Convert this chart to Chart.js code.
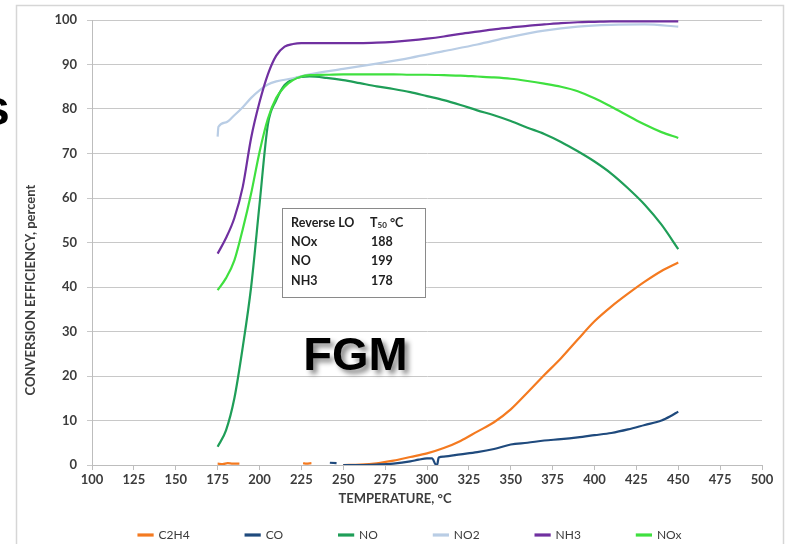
<!DOCTYPE html>
<html>
<head>
<meta charset="utf-8">
<script src="https://cdn.jsdelivr.net/npm/chart.js@4.4.1/dist/chart.umd.min.js"></script>
<style>
  html, body { margin: 0; padding: 0; background: #ffffff; }
  canvas { display: block; }
</style>
</head>
<body>
<canvas id="chart" width="788" height="544"></canvas>
<script>
// Light-off curves: conversion efficiency (%) versus inlet temperature (°C)
const seriesNames = ['C2H4', 'CO', 'NO', 'NO2', 'NH3', 'NOx'];
const seriesColors = ['#f47a20', '#1f4a7d', '#1f9e58', '#b9cde5', '#7030a0', '#3fe03f'];

const c2h4Temp = [175, 178, 181, 184, 188, 189, 226, 228, 231, 232, 250, 260, 270, 280, 290, 300, 310, 320, 330, 340, 350, 360, 370, 380, 390, 400, 410, 420, 430, 440, 450];
const c2h4Vals = [0.3, 0.2, 0.4, 0.3, 0.3, null, 0.4, 0.3, 0.4, null, 0, 0.1, 0.4, 1.0, 1.8, 2.6, 3.8, 5.4, 7.5, 9.6, 12.5, 16.3, 20.2, 24.0, 28.2, 32.3, 35.6, 38.5, 41.2, 43.6, 45.5];

const coTemp = [242, 246, 247, 250, 260, 270, 280, 290, 295, 300, 303, 305, 306, 307, 310, 320, 330, 340, 350, 360, 370, 380, 390, 400, 410, 420, 430, 440, 445, 450];
const coVals = [0.5, 0.4, null, 0, 0, 0.1, 0.3, 0.8, 1.2, 1.5, 1.5, 0.2, 0, 1.7, 1.9, 2.4, 2.9, 3.6, 4.6, 5.0, 5.5, 5.8, 6.2, 6.7, 7.2, 8.0, 9.0, 10.0, 10.9, 12.0];

const gridTemp = [175, 180, 185, 190, 195, 200, 205, 210, 215, 220, 225, 230, 240, 250, 260, 270, 280, 290, 300, 310, 320, 330, 340, 350, 360, 370, 380, 390, 400, 410, 420, 430, 440, 450];
const noVals  = [4.1, 7.8, 15.0, 26.5, 40.0, 58.5, 76.5, 82.0, 85.4, 86.7, 87.2, 87.3, 87.0, 86.5, 85.8, 85.1, 84.5, 83.8, 82.9, 82.0, 80.9, 79.7, 78.6, 77.3, 75.8, 74.4, 72.6, 70.5, 68.2, 65.5, 62.2, 58.5, 54.0, 48.5];
const nh3Vals = [47.5, 51.0, 55.5, 62.5, 73.5, 81.5, 87.8, 92.0, 94.0, 94.6, 94.8, 94.8, 94.8, 94.8, 94.8, 94.9, 95.1, 95.4, 95.8, 96.3, 96.9, 97.4, 97.9, 98.3, 98.7, 99.0, 99.3, 99.5, 99.6, 99.7, 99.7, 99.7, 99.7, 99.7];
const noxVals = [39.3, 42.0, 46.0, 53.0, 61.0, 70.3, 77.8, 82.5, 85.0, 86.5, 87.3, 87.6, 87.7, 87.8, 87.8, 87.8, 87.8, 87.7, 87.7, 87.6, 87.5, 87.3, 87.1, 86.8, 86.3, 85.7, 85.0, 84.0, 82.4, 80.5, 78.5, 76.5, 74.8, 73.5];

const no2Temp = [175, 175.5, 180, 185, 190, 195, 200, 205, 210, 220, 230, 250, 270, 290, 310, 330, 350, 370, 390, 410, 430, 450];
const no2Vals = [73.8, 76.0, 77.0, 78.6, 80.4, 82.5, 84.2, 85.5, 86.2, 86.9, 87.8, 89.0, 90.2, 91.5, 93.0, 94.5, 96.2, 97.6, 98.5, 98.9, 99.0, 98.5];

// T50 light-off table
const t50Header = ['Reverse LO', '°C'];
const t50Species = ['NOx', 'NO', 'NH3'];
const t50Values = [188, 199, 178];

const pts = (xs, ys) => xs.map((x, i) => ({ x: x, y: ys[i] }));
const seriesData = [
  pts(c2h4Temp, c2h4Vals),
  pts(coTemp, coVals),
  pts(gridTemp, noVals),
  pts(no2Temp, no2Vals),
  pts(gridTemp, nh3Vals),
  pts(gridTemp, noxVals)
];

const FONT = 'Lato, "Open Sans", sans-serif';
const TEXT = '#3c3c3c';

const decor = {
  id: 'decor',
  afterLayout(chart) {
    // legend row sits a little right of centre and tucked under the axis title
    const lg = chart.legend;
    lg.left += 19; lg.right += 19;
    lg.top -= 22; lg.bottom -= 22;
  },
  beforeDraw(chart) {
    const ctx = chart.ctx;
    ctx.save();
    ctx.strokeStyle = '#d6d6d6';
    ctx.lineWidth = 1.5;
    ctx.strokeRect(16.5, 5.5, 767, 600);
    ctx.fillStyle = '#000000';
    ctx.font = 'bold 50px "Liberation Sans", Arial, sans-serif';
    ctx.textBaseline = 'alphabetic';
    ctx.fillText('s', -18, 125);
    ctx.restore();
  },
  afterDatasetsDraw(chart) {
    const { ctx, scales: { x, y } } = chart;
    ctx.save();
    // T50 table box
    const l = x.getPixelForValue(213.5), r = x.getPixelForValue(298.8);
    const t = y.getPixelForValue(57.8), b = y.getPixelForValue(37.8);
    ctx.fillStyle = '#ffffff';
    ctx.fillRect(l, t, r - l, b - t);
    ctx.strokeStyle = '#8a8a8a';
    ctx.lineWidth = 1;
    ctx.strokeRect(Math.round(l) + 0.5, Math.round(t) + 0.5, Math.round(r - l), Math.round(b - t));
    ctx.fillStyle = '#1e1e1e';
    ctx.textBaseline = 'middle';
    ctx.textAlign = 'left';
    const col1 = l + 9, col2 = l + 88;
    const row0 = t + 15, rowStep = 19.3;
    ctx.font = 'bold 12.5px ' + FONT;
    ctx.fillText(t50Header[0], col1, row0);
    ctx.fillText('T', col2, row0);
    const tw = ctx.measureText('T').width;
    ctx.font = 'bold 8px ' + FONT;
    ctx.fillText('50', col2 + tw, row0 + 3);
    const sw = ctx.measureText('50').width;
    ctx.font = 'bold 12.5px ' + FONT;
    ctx.fillText(' ' + t50Header[1], col2 + tw + sw, row0);
    t50Species.forEach((s, i) => {
      ctx.fillText(s, col1, row0 + rowStep * (i + 1));
      ctx.fillText(String(t50Values[i]), col2 + 1, row0 + rowStep * (i + 1));
    });
    // catalyst label with drop shadow
    ctx.font = 'bold 47px "Liberation Sans", Arial, sans-serif';
    ctx.textAlign = 'center';
    ctx.textBaseline = 'alphabetic';
    ctx.shadowColor = 'rgba(0,0,0,0.45)';
    ctx.shadowBlur = 5;
    ctx.shadowOffsetX = 4;
    ctx.shadowOffsetY = 4;
    ctx.fillStyle = '#000000';
    ctx.fillText('FGM', x.getPixelForValue(257.3), y.getPixelForValue(21.3));
    ctx.restore();
  },
  afterDraw(chart) {
    const ctx = chart.ctx;
    ctx.save();
    ctx.fillStyle = TEXT;
    ctx.textAlign = 'center';
    ctx.textBaseline = 'middle';
    ctx.font = 'bold 13px ' + FONT;
    ctx.fillText('TEMPERATURE, °C', 395, 499);
    ctx.translate(31, 290);
    ctx.rotate(-Math.PI / 2);
    ctx.fillText('CONVERSION EFFICIENCY, percent', 0, 0);
    ctx.restore();
  }
};

new Chart(document.getElementById('chart'), {
  type: 'line',
  data: {
    datasets: seriesNames.map((name, i) => ({
      label: name,
      data: seriesData[i],
      borderColor: seriesColors[i],
      backgroundColor: seriesColors[i],
      borderWidth: 2.2,
      pointRadius: 0,
      cubicInterpolationMode: 'monotone',
      spanGaps: false,
      order: seriesNames.length - i
    }))
  },
  options: {
    responsive: false,
    animation: false,
    devicePixelRatio: 1,
    layout: { padding: { left: 20, right: 26, top: 20, bottom: -29 } },
    plugins: {
      tooltip: { enabled: false },
      legend: {
        position: 'bottom',
        labels: {
          boxWidth: 14,
          boxHeight: 1,
          padding: 56,
          color: TEXT,
          font: { family: FONT, size: 12 },
          sort: (a, b) => a.datasetIndex - b.datasetIndex
        }
      }
    },
    scales: {
      x: {
        type: 'linear',
        min: 100,
        max: 500,
        afterFit: s => { s.height = 30; },
        ticks: { stepSize: 25, padding: 2, color: TEXT, font: { family: FONT, size: 13, weight: 'bold' } },
        grid: { drawOnChartArea: false, drawTicks: true, tickLength: 5, color: '#bdbdbd' },
        border: { color: '#bdbdbd' }
      },
      y: {
        min: 0,
        max: 100,
        afterFit: s => { s.width = 72; },
        ticks: { stepSize: 10, padding: 10, color: TEXT, font: { family: FONT, size: 13, weight: 'bold' } },
        grid: { color: '#c8c8c8', tickLength: 5 },
        border: { color: '#bdbdbd' }
      }
    }
  },
  plugins: [decor]
});
</script>
</body>
</html>
